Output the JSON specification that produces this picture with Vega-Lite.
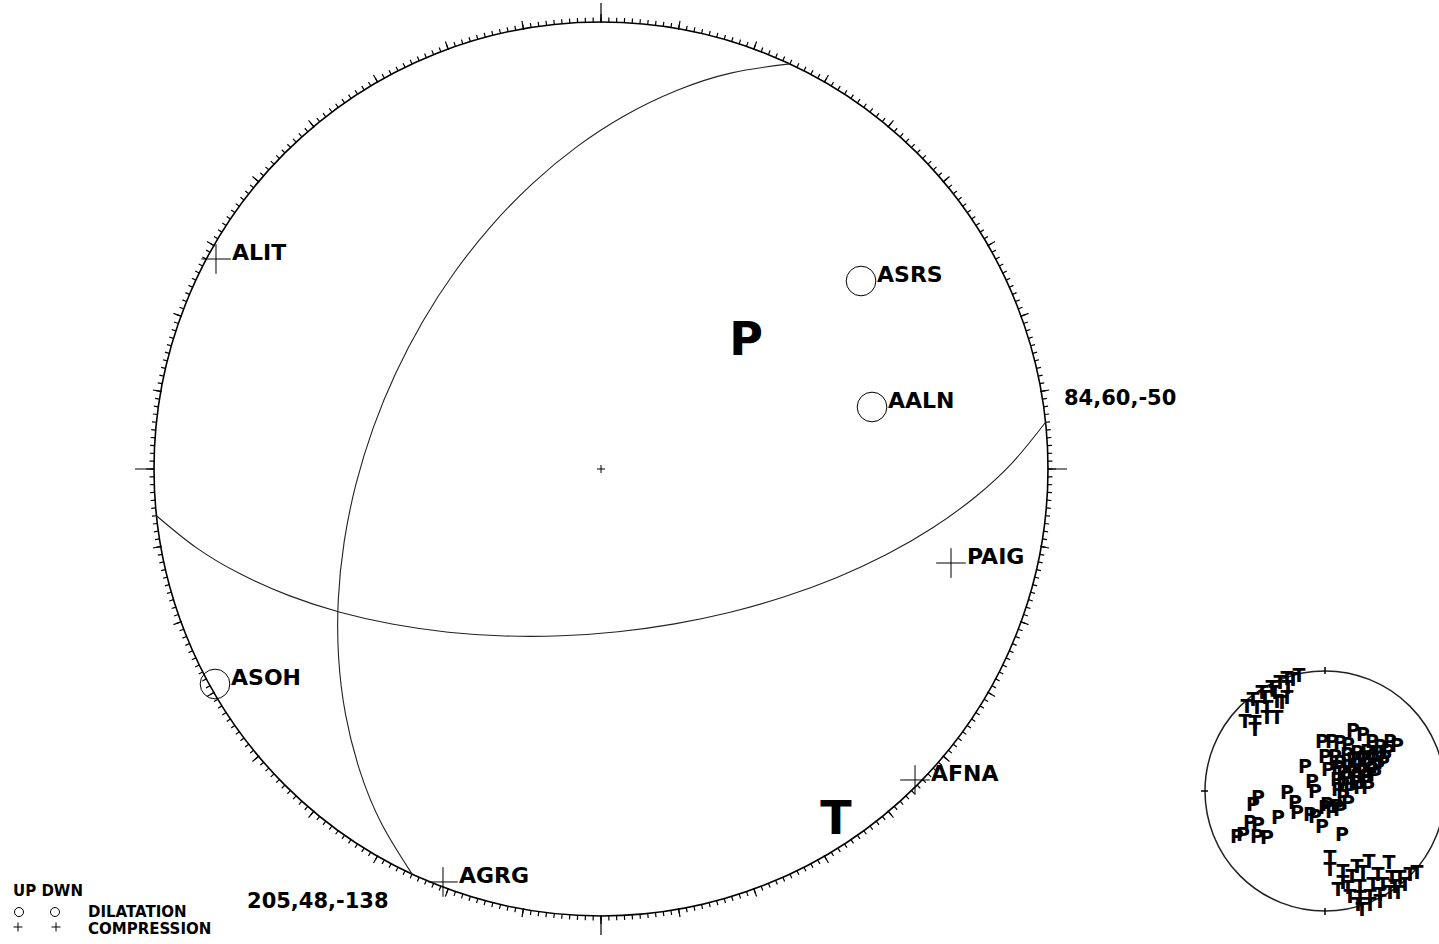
{
  "$schema": "https://vega.github.io/schema/vega-lite/v6.json",
  "width": 1439,
  "height": 944,
  "autosize": {"type": "none"},
  "padding": 0,
  "background": "white",
  "config": {"view": {"stroke": null}},
  "datasets": {
    "deg": [{"az":0},{"az":1},{"az":2},{"az":3},{"az":4},{"az":5},{"az":6},{"az":7},{"az":8},{"az":9},{"az":10},{"az":11},{"az":12},{"az":13},{"az":14},{"az":15},{"az":16},{"az":17},{"az":18},{"az":19},{"az":20},{"az":21},{"az":22},{"az":23},{"az":24},{"az":25},{"az":26},{"az":27},{"az":28},{"az":29},{"az":30},{"az":31},{"az":32},{"az":33},{"az":34},{"az":35},{"az":36},{"az":37},{"az":38},{"az":39},{"az":40},{"az":41},{"az":42},{"az":43},{"az":44},{"az":45},{"az":46},{"az":47},{"az":48},{"az":49},{"az":50},{"az":51},{"az":52},{"az":53},{"az":54},{"az":55},{"az":56},{"az":57},{"az":58},{"az":59},{"az":60},{"az":61},{"az":62},{"az":63},{"az":64},{"az":65},{"az":66},{"az":67},{"az":68},{"az":69},{"az":70},{"az":71},{"az":72},{"az":73},{"az":74},{"az":75},{"az":76},{"az":77},{"az":78},{"az":79},{"az":80},{"az":81},{"az":82},{"az":83},{"az":84},{"az":85},{"az":86},{"az":87},{"az":88},{"az":89},{"az":90},{"az":91},{"az":92},{"az":93},{"az":94},{"az":95},{"az":96},{"az":97},{"az":98},{"az":99},{"az":100},{"az":101},{"az":102},{"az":103},{"az":104},{"az":105},{"az":106},{"az":107},{"az":108},{"az":109},{"az":110},{"az":111},{"az":112},{"az":113},{"az":114},{"az":115},{"az":116},{"az":117},{"az":118},{"az":119},{"az":120},{"az":121},{"az":122},{"az":123},{"az":124},{"az":125},{"az":126},{"az":127},{"az":128},{"az":129},{"az":130},{"az":131},{"az":132},{"az":133},{"az":134},{"az":135},{"az":136},{"az":137},{"az":138},{"az":139},{"az":140},{"az":141},{"az":142},{"az":143},{"az":144},{"az":145},{"az":146},{"az":147},{"az":148},{"az":149},{"az":150},{"az":151},{"az":152},{"az":153},{"az":154},{"az":155},{"az":156},{"az":157},{"az":158},{"az":159},{"az":160},{"az":161},{"az":162},{"az":163},{"az":164},{"az":165},{"az":166},{"az":167},{"az":168},{"az":169},{"az":170},{"az":171},{"az":172},{"az":173},{"az":174},{"az":175},{"az":176},{"az":177},{"az":178},{"az":179},{"az":180},{"az":181},{"az":182},{"az":183},{"az":184},{"az":185},{"az":186},{"az":187},{"az":188},{"az":189},{"az":190},{"az":191},{"az":192},{"az":193},{"az":194},{"az":195},{"az":196},{"az":197},{"az":198},{"az":199},{"az":200},{"az":201},{"az":202},{"az":203},{"az":204},{"az":205},{"az":206},{"az":207},{"az":208},{"az":209},{"az":210},{"az":211},{"az":212},{"az":213},{"az":214},{"az":215},{"az":216},{"az":217},{"az":218},{"az":219},{"az":220},{"az":221},{"az":222},{"az":223},{"az":224},{"az":225},{"az":226},{"az":227},{"az":228},{"az":229},{"az":230},{"az":231},{"az":232},{"az":233},{"az":234},{"az":235},{"az":236},{"az":237},{"az":238},{"az":239},{"az":240},{"az":241},{"az":242},{"az":243},{"az":244},{"az":245},{"az":246},{"az":247},{"az":248},{"az":249},{"az":250},{"az":251},{"az":252},{"az":253},{"az":254},{"az":255},{"az":256},{"az":257},{"az":258},{"az":259},{"az":260},{"az":261},{"az":262},{"az":263},{"az":264},{"az":265},{"az":266},{"az":267},{"az":268},{"az":269},{"az":270},{"az":271},{"az":272},{"az":273},{"az":274},{"az":275},{"az":276},{"az":277},{"az":278},{"az":279},{"az":280},{"az":281},{"az":282},{"az":283},{"az":284},{"az":285},{"az":286},{"az":287},{"az":288},{"az":289},{"az":290},{"az":291},{"az":292},{"az":293},{"az":294},{"az":295},{"az":296},{"az":297},{"az":298},{"az":299},{"az":300},{"az":301},{"az":302},{"az":303},{"az":304},{"az":305},{"az":306},{"az":307},{"az":308},{"az":309},{"az":310},{"az":311},{"az":312},{"az":313},{"az":314},{"az":315},{"az":316},{"az":317},{"az":318},{"az":319},{"az":320},{"az":321},{"az":322},{"az":323},{"az":324},{"az":325},{"az":326},{"az":327},{"az":328},{"az":329},{"az":330},{"az":331},{"az":332},{"az":333},{"az":334},{"az":335},{"az":336},{"az":337},{"az":338},{"az":339},{"az":340},{"az":341},{"az":342},{"az":343},{"az":344},{"az":345},{"az":346},{"az":347},{"az":348},{"az":349},{"az":350},{"az":351},{"az":352},{"az":353},{"az":354},{"az":355},{"az":356},{"az":357},{"az":358},{"az":359}],
    "deg10": [{"az":0},{"az":10},{"az":20},{"az":30},{"az":40},{"az":50},{"az":60},{"az":70},{"az":80},{"az":90},{"az":100},{"az":110},{"az":120},{"az":130},{"az":140},{"az":150},{"az":160},{"az":170},{"az":180},{"az":190},{"az":200},{"az":210},{"az":220},{"az":230},{"az":240},{"az":250},{"az":260},{"az":270},{"az":280},{"az":290},{"az":300},{"az":310},{"az":320},{"az":330},{"az":340},{"az":350}],
    "deg90": [{"az":0},{"az":90},{"az":180},{"az":270}],
    "origin": [{"x":0,"y":0}],
    "planes": [
      {"plane":"84,60,-50","t":0,"x":0.9945,"y":0.1045},
      {"plane":"84,60,-50","t":10,"x":0.9216,"y":0.0155},
      {"plane":"84,60,-50","t":20,"x":0.8366,"y":-0.0631},
      {"plane":"84,60,-50","t":30,"x":0.7413,"y":-0.1321},
      {"plane":"84,60,-50","t":40,"x":0.6375,"y":-0.1920},
      {"plane":"84,60,-50","t":50,"x":0.5267,"y":-0.2433},
      {"plane":"84,60,-50","t":60,"x":0.4101,"y":-0.2860},
      {"plane":"84,60,-50","t":70,"x":0.2890,"y":-0.3204},
      {"plane":"84,60,-50","t":80,"x":0.1647,"y":-0.3464},
      {"plane":"84,60,-50","t":90,"x":0.0383,"y":-0.3640},
      {"plane":"84,60,-50","t":100,"x":-0.0891,"y":-0.3731},
      {"plane":"84,60,-50","t":110,"x":-0.2161,"y":-0.3735},
      {"plane":"84,60,-50","t":120,"x":-0.3417,"y":-0.3651},
      {"plane":"84,60,-50","t":130,"x":-0.4646,"y":-0.3475},
      {"plane":"84,60,-50","t":140,"x":-0.5837,"y":-0.3204},
      {"plane":"84,60,-50","t":150,"x":-0.6977,"y":-0.2833},
      {"plane":"84,60,-50","t":160,"x":-0.8051,"y":-0.2357},
      {"plane":"84,60,-50","t":170,"x":-0.9047,"y":-0.1765},
      {"plane":"84,60,-50","t":180,"x":-0.9945,"y":-0.1045},
      {"plane":"205,48,-138","t":0,"x":-0.4226,"y":-0.9063},
      {"plane":"205,48,-138","t":10,"x":-0.4908,"y":-0.7938},
      {"plane":"205,48,-138","t":20,"x":-0.5398,"y":-0.6741},
      {"plane":"205,48,-138","t":30,"x":-0.5714,"y":-0.5495},
      {"plane":"205,48,-138","t":40,"x":-0.5870,"y":-0.4216},
      {"plane":"205,48,-138","t":50,"x":-0.5877,"y":-0.2921},
      {"plane":"205,48,-138","t":60,"x":-0.5745,"y":-0.1625},
      {"plane":"205,48,-138","t":70,"x":-0.5482,"y":-0.0340},
      {"plane":"205,48,-138","t":80,"x":-0.5096,"y":0.0920},
      {"plane":"205,48,-138","t":90,"x":-0.4593,"y":0.2142},
      {"plane":"205,48,-138","t":100,"x":-0.3981,"y":0.3312},
      {"plane":"205,48,-138","t":110,"x":-0.3264,"y":0.4418},
      {"plane":"205,48,-138","t":120,"x":-0.2448,"y":0.5445},
      {"plane":"205,48,-138","t":130,"x":-0.1540,"y":0.6380},
      {"plane":"205,48,-138","t":140,"x":-0.0544,"y":0.7207},
      {"plane":"205,48,-138","t":150,"x":0.0536,"y":0.7909},
      {"plane":"205,48,-138","t":160,"x":0.1694,"y":0.8468},
      {"plane":"205,48,-138","t":170,"x":0.2926,"y":0.8862},
      {"plane":"205,48,-138","t":180,"x":0.4226,"y":0.9063}
    ],
    "stations": [
      {"name":"ALIT","polarity":"C","x":-0.8613,"y":0.4698},
      {"name":"ASRS","polarity":"D","x":0.5817,"y":0.4206},
      {"name":"AALN","polarity":"D","x":0.6063,"y":0.1387},
      {"name":"PAIG","polarity":"C","x":0.7830,"y":-0.2103},
      {"name":"ASOH","polarity":"D","x":-0.8635,"y":-0.4810},
      {"name":"AFNA","polarity":"C","x":0.7025,"y":-0.6957},
      {"name":"AGRG","polarity":"C","x":-0.3535,"y":-0.9239}
    ],
    "axesPT": [
      {"label":"P","x":0.3244,"y":0.2864},
      {"label":"T","x":0.5257,"y":-0.7852}
    ],
    "planeLabels": [
      {"text":"84,60,-50","x":1.0358,"y":0.1432},
      {"text":"205,48,-138","x":-0.7919,"y":-0.9821}
    ],
    "legendText": [
      {"text":"UP DWN","x":-1.3154,"y":-0.9553},
      {"text":"DILATATION","x":-1.1477,"y":-1.0022},
      {"text":"COMPRESSION","x":-1.1477,"y":-1.0403}
    ],
    "legendSymbols": [
      {"polarity":"D","x":-1.3020,"y":-0.9911},
      {"polarity":"D","x":-1.2215,"y":-0.9911},
      {"polarity":"C","x":-1.3043,"y":-1.0246},
      {"polarity":"C","x":-1.2192,"y":-1.0246}
    ],
    "solutions": [
      {"k":"T","x":-0.217,"y":0.958},{"k":"T","x":-0.267,"y":0.925},{"k":"T","x":-0.317,"y":0.933},{"k":"T","x":-0.375,"y":0.900},
      {"k":"T","x":-0.308,"y":0.858},{"k":"T","x":-0.442,"y":0.858},{"k":"T","x":-0.525,"y":0.817},{"k":"T","x":-0.417,"y":0.817},
      {"k":"T","x":-0.317,"y":0.775},{"k":"T","x":-0.600,"y":0.758},{"k":"T","x":-0.500,"y":0.775},{"k":"T","x":-0.400,"y":0.742},
      {"k":"T","x":-0.567,"y":0.692},{"k":"T","x":-0.483,"y":0.692},{"k":"T","x":-0.650,"y":0.700},{"k":"T","x":-0.667,"y":0.575},
      {"k":"T","x":-0.583,"y":0.567},{"k":"T","x":-0.483,"y":0.608},{"k":"T","x":-0.400,"y":0.608},{"k":"T","x":-0.583,"y":0.508},
      {"k":"T","x":-0.358,"y":0.733},
      {"k":"T","x":0.042,"y":-0.558},{"k":"T","x":0.042,"y":-0.658},{"k":"T","x":0.150,"y":-0.675},{"k":"T","x":0.267,"y":-0.633},
      {"k":"T","x":0.367,"y":-0.592},{"k":"T","x":0.533,"y":-0.600},{"k":"T","x":0.225,"y":-0.717},{"k":"T","x":0.317,"y":-0.683},
      {"k":"T","x":0.442,"y":-0.700},{"k":"T","x":0.558,"y":-0.725},{"k":"T","x":0.625,"y":-0.725},{"k":"T","x":0.708,"y":-0.700},
      {"k":"T","x":0.108,"y":-0.825},{"k":"T","x":0.192,"y":-0.808},{"k":"T","x":0.292,"y":-0.800},{"k":"T","x":0.400,"y":-0.783},
      {"k":"T","x":0.483,"y":-0.783},{"k":"T","x":0.583,"y":-0.800},{"k":"T","x":0.667,"y":-0.783},{"k":"T","x":0.208,"y":-0.883},
      {"k":"T","x":0.292,"y":-0.892},{"k":"T","x":0.375,"y":-0.883},{"k":"T","x":0.458,"y":-0.867},{"k":"T","x":0.542,"y":-0.850},
      {"k":"T","x":0.608,"y":-0.850},{"k":"T","x":0.275,"y":-0.950},{"k":"T","x":0.375,"y":-0.950},{"k":"T","x":0.458,"y":-0.925},
      {"k":"T","x":0.308,"y":-0.992},{"k":"T","x":0.150,"y":-0.767},{"k":"T","x":0.767,"y":-0.683},
      {"k":"P","x":0.233,"y":0.500},{"k":"P","x":0.317,"y":0.467},{"k":"P","x":-0.025,"y":0.408},{"k":"P","x":0.058,"y":0.408},
      {"k":"P","x":0.125,"y":0.400},{"k":"P","x":0.192,"y":0.383},{"k":"P","x":0.392,"y":0.408},{"k":"P","x":0.542,"y":0.408},
      {"k":"P","x":0.600,"y":0.375},{"k":"P","x":0.458,"y":0.367},{"k":"P","x":0.000,"y":0.283},{"k":"P","x":0.083,"y":0.283},
      {"k":"P","x":0.183,"y":0.300},{"k":"P","x":0.267,"y":0.317},{"k":"P","x":0.350,"y":0.325},{"k":"P","x":0.433,"y":0.317},
      {"k":"P","x":0.500,"y":0.275},{"k":"P","x":0.525,"y":0.325},{"k":"P","x":0.025,"y":0.175},{"k":"P","x":0.108,"y":0.192},
      {"k":"P","x":0.192,"y":0.200},{"k":"P","x":0.275,"y":0.217},{"k":"P","x":0.358,"y":0.217},{"k":"P","x":0.442,"y":0.200},
      {"k":"P","x":0.483,"y":0.233},{"k":"P","x":0.125,"y":0.233},{"k":"P","x":0.233,"y":0.258},{"k":"P","x":0.317,"y":0.258},
      {"k":"P","x":0.400,"y":0.258},{"k":"P","x":0.150,"y":0.150},{"k":"P","x":0.233,"y":0.150},{"k":"P","x":0.317,"y":0.158},
      {"k":"P","x":0.392,"y":0.175},{"k":"P","x":0.100,"y":0.092},{"k":"P","x":0.183,"y":0.108},{"k":"P","x":0.267,"y":0.117},
      {"k":"P","x":0.350,"y":0.117},{"k":"P","x":0.417,"y":0.133},{"k":"P","x":0.150,"y":0.050},{"k":"P","x":0.250,"y":0.067},
      {"k":"P","x":0.333,"y":0.075},{"k":"P","x":0.108,"y":0.008},{"k":"P","x":0.208,"y":0.008},{"k":"P","x":0.292,"y":0.025},
      {"k":"P","x":0.358,"y":0.025},{"k":"P","x":0.150,"y":-0.050},{"k":"P","x":0.192,"y":-0.100},{"k":"P","x":-0.167,"y":0.200},
      {"k":"P","x":-0.108,"y":0.075},{"k":"P","x":-0.083,"y":-0.008},{"k":"P","x":0.000,"y":-0.142},{"k":"P","x":0.058,"y":-0.175},
      {"k":"P","x":0.125,"y":-0.158},{"k":"P","x":-0.125,"y":-0.200},{"k":"P","x":0.017,"y":-0.117},{"k":"P","x":0.100,"y":-0.133},
      {"k":"P","x":-0.558,"y":-0.058},{"k":"P","x":-0.600,"y":-0.117},{"k":"P","x":-0.625,"y":-0.267},{"k":"P","x":-0.558,"y":-0.283},
      {"k":"P","x":-0.733,"y":-0.383},{"k":"P","x":-0.683,"y":-0.367},{"k":"P","x":-0.567,"y":-0.383},{"k":"P","x":-0.483,"y":-0.392},
      {"k":"P","x":-0.392,"y":-0.225},{"k":"P","x":-0.317,"y":-0.017},{"k":"P","x":-0.250,"y":-0.100},{"k":"P","x":-0.233,"y":-0.183},
      {"k":"P","x":-0.083,"y":-0.217},{"k":"P","x":-0.025,"y":-0.300},{"k":"P","x":0.142,"y":-0.367}
    ]
  },
  "layer": [
    {
      "layer": [
        {
          "data": {"name": "origin"},
          "mark": {"type": "arc", "radius": 447, "theta": 0, "theta2": 6.2832, "filled": false, "color": "black", "strokeWidth": 1.6},
          "encoding": {
            "x": {"field": "x", "type": "quantitative", "scale": {"domain": [-1.34452, 1.87472], "nice": false, "zero": false}, "axis": null},
            "y": {"field": "y", "type": "quantitative", "scale": {"domain": [-1.06264, 1.04922], "nice": false, "zero": false}, "axis": null}
          }
        },
        {
          "data": {"name": "deg"},
          "mark": {"type": "arc", "radius": 451.5, "radius2": 447, "filled": false, "color": "black", "strokeWidth": 1.2},
          "encoding": {
            "x": {"datum": 0, "type": "quantitative", "scale": {"domain": [-1.34452, 1.87472], "nice": false, "zero": false}, "axis": null},
            "y": {"datum": 0, "type": "quantitative", "scale": {"domain": [-1.06264, 1.04922], "nice": false, "zero": false}, "axis": null},
            "theta": {"field": "az", "type": "quantitative", "stack": null, "scale": {"domain": [0, 360], "range": [0, 6.283185307179586]}},
            "theta2": {"field": "az"}
          }
        },
        {
          "data": {"name": "deg10"},
          "mark": {"type": "arc", "radius": 455, "radius2": 446, "filled": false, "color": "black", "strokeWidth": 1.2},
          "encoding": {
            "x": {"datum": 0, "type": "quantitative", "scale": {"domain": [-1.34452, 1.87472], "nice": false, "zero": false}, "axis": null},
            "y": {"datum": 0, "type": "quantitative", "scale": {"domain": [-1.06264, 1.04922], "nice": false, "zero": false}, "axis": null},
            "theta": {"field": "az", "type": "quantitative", "stack": null, "scale": {"domain": [0, 360], "range": [0, 6.283185307179586]}},
            "theta2": {"field": "az"}
          }
        },
        {
          "data": {"name": "deg90"},
          "mark": {"type": "arc", "radius": 466, "radius2": 447, "filled": false, "color": "black", "strokeWidth": 1.2},
          "encoding": {
            "x": {"datum": 0, "type": "quantitative", "scale": {"domain": [-1.34452, 1.87472], "nice": false, "zero": false}, "axis": null},
            "y": {"datum": 0, "type": "quantitative", "scale": {"domain": [-1.06264, 1.04922], "nice": false, "zero": false}, "axis": null},
            "theta": {"field": "az", "type": "quantitative", "stack": null, "scale": {"domain": [0, 360], "range": [0, 6.283185307179586]}},
            "theta2": {"field": "az"}
          }
        },
        {
          "data": {"name": "planes"},
          "mark": {"type": "line", "interpolate": "natural", "color": "#222222", "strokeWidth": 1.1},
          "encoding": {
            "x": {"field": "x", "type": "quantitative", "scale": {"domain": [-1.34452, 1.87472], "nice": false, "zero": false}, "axis": null},
            "y": {"field": "y", "type": "quantitative", "scale": {"domain": [-1.06264, 1.04922], "nice": false, "zero": false}, "axis": null},
            "detail": {"field": "plane", "type": "nominal"},
            "order": {"field": "t", "type": "quantitative"}
          }
        },
        {
          "data": {"name": "origin"},
          "mark": {"type": "point", "shape": "M-1,0H1M0,-1V1", "size": 64, "filled": false, "color": "black", "strokeWidth": 1, "opacity": 1},
          "encoding": {
            "x": {"field": "x", "type": "quantitative", "scale": {"domain": [-1.34452, 1.87472], "nice": false, "zero": false}, "axis": null},
            "y": {"field": "y", "type": "quantitative", "scale": {"domain": [-1.06264, 1.04922], "nice": false, "zero": false}, "axis": null}
          }
        },
        {
          "data": {"name": "stations"},
          "mark": {"type": "point", "size": 880, "filled": false, "color": "black", "strokeWidth": 1, "opacity": 1},
          "encoding": {
            "x": {"field": "x", "type": "quantitative", "scale": {"domain": [-1.34452, 1.87472], "nice": false, "zero": false}, "axis": null},
            "y": {"field": "y", "type": "quantitative", "scale": {"domain": [-1.06264, 1.04922], "nice": false, "zero": false}, "axis": null},
            "shape": {"field": "polarity", "type": "nominal", "scale": {"domain": ["C", "D"], "range": ["M-1,0H1M0,-1V1", "circle"]}, "legend": null}
          }
        },
        {
          "data": {"name": "stations"},
          "mark": {"type": "text", "align": "left", "baseline": "alphabetic", "dx": 16, "dy": 1, "font": "DejaVu Sans", "fontWeight": "bold", "fontSize": 22, "color": "black"},
          "encoding": {
            "x": {"field": "x", "type": "quantitative", "scale": {"domain": [-1.34452, 1.87472], "nice": false, "zero": false}, "axis": null},
            "y": {"field": "y", "type": "quantitative", "scale": {"domain": [-1.06264, 1.04922], "nice": false, "zero": false}, "axis": null},
            "text": {"field": "name", "type": "nominal"}
          }
        },
        {
          "data": {"name": "axesPT"},
          "mark": {"type": "text", "align": "center", "baseline": "middle", "font": "DejaVu Sans", "fontWeight": "bold", "fontSize": 46, "color": "black"},
          "encoding": {
            "x": {"field": "x", "type": "quantitative", "scale": {"domain": [-1.34452, 1.87472], "nice": false, "zero": false}, "axis": null},
            "y": {"field": "y", "type": "quantitative", "scale": {"domain": [-1.06264, 1.04922], "nice": false, "zero": false}, "axis": null},
            "text": {"field": "label", "type": "nominal"}
          }
        },
        {
          "data": {"name": "planeLabels"},
          "mark": {"type": "text", "align": "left", "baseline": "alphabetic", "font": "DejaVu Sans", "fontWeight": "bold", "fontSize": 21, "color": "black"},
          "encoding": {
            "x": {"field": "x", "type": "quantitative", "scale": {"domain": [-1.34452, 1.87472], "nice": false, "zero": false}, "axis": null},
            "y": {"field": "y", "type": "quantitative", "scale": {"domain": [-1.06264, 1.04922], "nice": false, "zero": false}, "axis": null},
            "text": {"field": "text", "type": "nominal"}
          }
        },
        {
          "data": {"name": "legendSymbols"},
          "mark": {"type": "point", "size": 81, "filled": false, "color": "black", "strokeWidth": 1, "opacity": 1},
          "encoding": {
            "x": {"field": "x", "type": "quantitative", "scale": {"domain": [-1.34452, 1.87472], "nice": false, "zero": false}, "axis": null},
            "y": {"field": "y", "type": "quantitative", "scale": {"domain": [-1.06264, 1.04922], "nice": false, "zero": false}, "axis": null},
            "shape": {"field": "polarity", "type": "nominal", "scale": {"domain": ["C", "D"], "range": ["M-1,0H1M0,-1V1", "circle"]}, "legend": null}
          }
        },
        {
          "data": {"name": "legendText"},
          "mark": {"type": "text", "align": "left", "baseline": "alphabetic", "font": "DejaVu Sans", "fontWeight": "bold", "fontSize": 15, "color": "black"},
          "encoding": {
            "x": {"field": "x", "type": "quantitative", "scale": {"domain": [-1.34452, 1.87472], "nice": false, "zero": false}, "axis": null},
            "y": {"field": "y", "type": "quantitative", "scale": {"domain": [-1.06264, 1.04922], "nice": false, "zero": false}, "axis": null},
            "text": {"field": "text", "type": "nominal"}
          }
        }
      ]
    },
    {
      "layer": [
        {
          "data": {"name": "origin"},
          "mark": {"type": "arc", "radius": 120, "theta": 0, "theta2": 6.2832, "filled": false, "color": "#222222", "strokeWidth": 1.5},
          "encoding": {
            "x": {"field": "x", "type": "quantitative", "scale": {"domain": [-11.041667, 0.95], "nice": false, "zero": false}, "axis": null},
            "y": {"field": "y", "type": "quantitative", "scale": {"domain": [-1.275, 6.591667], "nice": false, "zero": false}, "axis": null}
          }
        },
        {
          "data": {"name": "deg90"},
          "mark": {"type": "arc", "radius": 124, "radius2": 117, "filled": false, "color": "black", "strokeWidth": 1},
          "encoding": {
            "x": {"datum": 0, "type": "quantitative", "scale": {"domain": [-11.041667, 0.95], "nice": false, "zero": false}, "axis": null},
            "y": {"datum": 0, "type": "quantitative", "scale": {"domain": [-1.275, 6.591667], "nice": false, "zero": false}, "axis": null},
            "theta": {"field": "az", "type": "quantitative", "stack": null, "scale": {"domain": [0, 360], "range": [0, 6.283185307179586]}},
            "theta2": {"field": "az"}
          }
        },
        {
          "data": {"name": "solutions"},
          "mark": {"type": "text", "align": "center", "baseline": "middle", "font": "DejaVu Sans", "fontWeight": "bold", "fontSize": 19, "color": "black"},
          "encoding": {
            "x": {"field": "x", "type": "quantitative", "scale": {"domain": [-11.041667, 0.95], "nice": false, "zero": false}, "axis": null},
            "y": {"field": "y", "type": "quantitative", "scale": {"domain": [-1.275, 6.591667], "nice": false, "zero": false}, "axis": null},
            "text": {"field": "k", "type": "nominal"}
          }
        }
      ]
    }
  ],
  "resolve": {"scale": {"x": "independent", "y": "independent"}}
}
